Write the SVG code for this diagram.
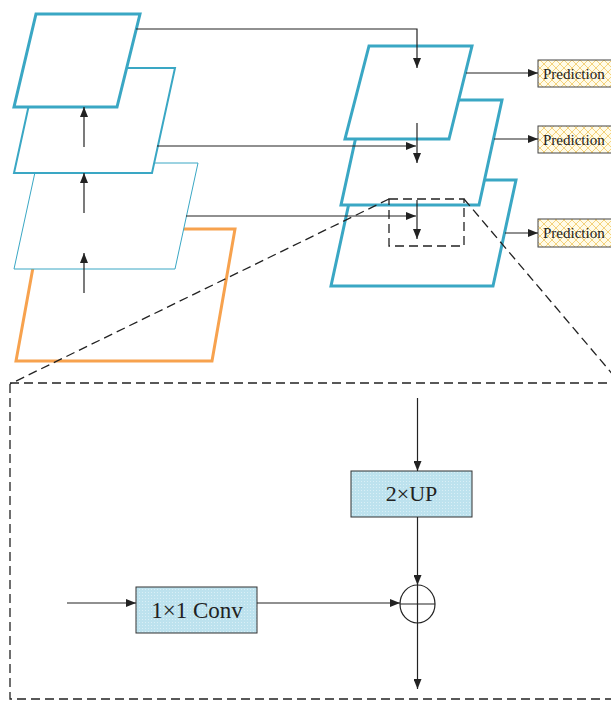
<svg xmlns="http://www.w3.org/2000/svg" width="611" height="701" viewBox="0 0 611 701">
<defs>
<style>
.layer{fill:#fff;stroke:#3aa7c4;stroke-linejoin:miter}
.thick{stroke-width:3}
.mid{stroke-width:2}
.thin{stroke-width:1}
.orange{fill:#fff;stroke:#f7a24e;stroke-width:3}
.conn{fill:none;stroke:#222;stroke-width:1.2}
.dash{fill:none;stroke:#222;stroke-width:1.3;stroke-dasharray:9 5}
.pred{fill:url(#lattice);stroke:#444;stroke-width:1}
.blue{fill:url(#dots);stroke:#333;stroke-width:1}
.lbl{font-family:"Liberation Serif","Times New Roman",serif;fill:#222}
</style>
<pattern id="lattice" width="8" height="8" patternUnits="userSpaceOnUse">
<rect width="8" height="8" fill="#fffbe8"/>
<path d="M0 0L8 8M8 0L0 8" stroke="#f4d27c" stroke-width="1"/>
</pattern>
<pattern id="dots" width="3" height="3" patternUnits="userSpaceOnUse">
<rect width="3" height="3" fill="#bde2ee"/>
<rect x="1" y="1" width="1" height="1" fill="#d9eff6"/>
</pattern>
<marker id="arr" viewBox="0 0 10 8" refX="10" refY="4" markerWidth="10" markerHeight="8" markerUnits="userSpaceOnUse" orient="auto">
<path d="M0 0L10 4L0 8z" fill="#222"/>
</marker>
</defs>

<g id="left-stack">
<g id="left-c2"><polygon class="orange" points="40,229 235,229 212,361 16,361"/></g>
<g id="left-c3"><polygon class="layer thin" points="37,163 198,163 175,269 14,269"/></g>
<g id="left-c4"><polygon class="layer mid" points="37,68 175,68 152,173 14,173"/></g>
<g id="left-c5"><polygon class="layer thick" points="36,14 140,14 117,107 14,107"/></g>
</g>

<g id="right-stack">
<g id="right-p3"><polygon class="layer thick" points="354,180 516,180 493,286 331,286"/></g>
<g id="right-p4"><polygon class="layer thick" points="364,100 502,100 479,205 341,205"/></g>
<g id="right-p5"><polygon class="layer thick" points="369,46 472,46 449,139 345,139"/></g>
</g>

<g id="predictions">
<g id="pred1"><rect class="pred" x="538" y="60" width="80" height="27"/><text class="lbl" x="543" y="78.5" font-size="15">Prediction</text></g>
<g id="pred2"><rect class="pred" x="538" y="126" width="80" height="27"/><text class="lbl" x="543" y="144.5" font-size="15">Prediction</text></g>
<g id="pred3"><rect class="pred" x="538" y="219" width="80" height="28"/><text class="lbl" x="543" y="238" font-size="15">Prediction</text></g>
</g>

<g id="detail">
<rect id="zoom-box" class="dash" x="389" y="199" width="75" height="47" stroke-dasharray="6 4" stroke-width="1.6"/>
<rect id="detail-frame" class="dash" x="10" y="383" width="620" height="316"/>
<g id="up"><rect class="blue" x="351" y="471" width="121" height="46"/><text class="lbl" x="411.5" y="501" font-size="22" text-anchor="middle">2×UP</text></g>
<g id="conv"><rect class="blue" x="136" y="587" width="121" height="46"/><text class="lbl" x="197" y="618" font-size="23" text-anchor="middle">1×1 Conv</text></g>
<g id="add"><ellipse cx="417.5" cy="604" rx="17.5" ry="19" fill="#fff" stroke="#222" stroke-width="1.2"/><path d="M400 604H435M417.5 585V623" stroke="#222" stroke-width="1.2"/></g>
</g>

<g id="connectors">
<path class="conn" d="M84 147V107" stroke-width="1.5" marker-end="url(#arr)"/>
<path class="conn" d="M84 213V173" stroke-width="1.5" marker-end="url(#arr)"/>
<path class="conn" d="M84 293V253" stroke-width="1.5" marker-end="url(#arr)"/>
<path class="conn" d="M136 29H417V68" marker-end="url(#arr)"/>
<path class="conn" d="M157 146H416" marker-end="url(#arr)"/>
<path class="conn" d="M186 216H416" marker-end="url(#arr)"/>
<path class="conn" d="M417 123V163" marker-end="url(#arr)"/>
<path class="conn" d="M417 200V239" marker-end="url(#arr)"/>
<path class="conn" d="M466 73H538" marker-end="url(#arr)"/>
<path class="conn" d="M494 139H538" marker-end="url(#arr)"/>
<path class="conn" d="M505 233H538" marker-end="url(#arr)"/>
<path class="dash" d="M389 199L10 384"/>
<path class="dash" d="M464 199L620 383"/>
<path class="conn" d="M417.5 398V471" marker-end="url(#arr)"/>
<path class="conn" d="M417.5 517V585" marker-end="url(#arr)"/>
<path class="conn" d="M67 603H136" marker-end="url(#arr)"/>
<path class="conn" d="M257 603H400" marker-end="url(#arr)"/>
<path class="conn" d="M417.5 623V689" marker-end="url(#arr)"/>
</g>
</svg>
